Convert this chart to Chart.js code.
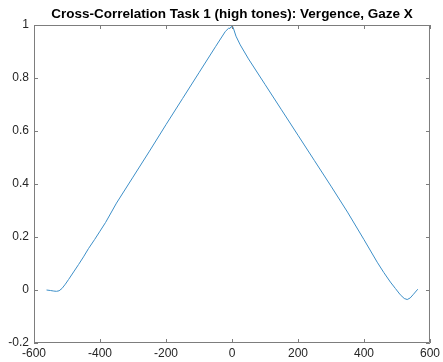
<!DOCTYPE html>
<html>
<head>
<meta charset="utf-8">
<script src="https://cdn.jsdelivr.net/npm/chart.js@4"></script>
<style>
  html, body { margin: 0; padding: 0; background: #fff; }
  #wrap { width: 443px; height: 362px; }
</style>
</head>
<body>
<div id="wrap"><canvas id="xcorr" width="443" height="362"></canvas></div>
<script>
// lag (samples) and normalized cross-correlation
const lags = [
  -562, -550, -540, -532, -524, -515, -505, -495, -480, -465, -450, -435,
  -416, -400, -383, -350, -300, -250, -229, -200, -150, -100, -50, -20,
  -10, -6, -3, 0, 5, 12, 25, 50, 100, 150, 200, 250, 300, 350, 400,
  440, 460, 480, 495, 510, 522, 531, 540, 550, 563
];
const corr = [
  0.000, -0.002, -0.004, -0.005, -0.003, 0.006, 0.022, 0.040, 0.068, 0.096, 0.125, 0.156,
  0.191, 0.222, 0.255, 0.328, 0.426, 0.524, 0.566, 0.624, 0.722, 0.820, 0.918, 0.976,
  0.988, 0.987, 0.993, 1.000, 0.985, 0.958, 0.925, 0.872, 0.776, 0.680, 0.584, 0.488, 0.392, 0.294, 0.190,
  0.105, 0.066, 0.030, 0.006, -0.018, -0.032, -0.036, -0.030, -0.016, 0.003
];
const xTicks = [-600, -400, -200, 0, 200, 400, 600];
const yTicks = [-0.2, 0, 0.2, 0.4, 0.6, 0.8, 1];
const yTickLabels = ['-0.2', '0', '0.2', '0.4', '0.6', '0.8', '1'];

const axisColor = '#7d7d7d';
const textColor = '#262626';
const tickLen = 4;
const fontFamily = 'Liberation Sans, Arial, sans-serif';

// MATLAB-style box with inward ticks on all four sides
const axesBox = {
  id: 'axesBox',
  afterDatasetsDraw(chart) {
    const { ctx, chartArea: a, scales: { x, y } } = chart;
    ctx.save();
    ctx.strokeStyle = axisColor;
    ctx.lineWidth = 1;
    ctx.beginPath();
    ctx.rect(a.left + 0.5, a.top + 0.5, a.right - a.left - 1, a.bottom - a.top - 1);
    xTicks.forEach(v => {
      const px = Math.round(x.getPixelForValue(v)) + 0.5;
      ctx.moveTo(px, a.bottom); ctx.lineTo(px, a.bottom - tickLen);
      ctx.moveTo(px, a.top); ctx.lineTo(px, a.top + tickLen);
    });
    yTicks.forEach(v => {
      const py = Math.round(y.getPixelForValue(v)) + 0.5;
      ctx.moveTo(a.left, py); ctx.lineTo(a.left + tickLen, py);
      ctx.moveTo(a.right, py); ctx.lineTo(a.right - tickLen, py);
    });
    ctx.stroke();
    ctx.restore();
  }
};

new Chart(document.getElementById('xcorr'), {
  type: 'line',
  data: {
    datasets: [{
      data: lags.map((l, i) => ({ x: l, y: corr[i] })),
      borderColor: '#3d8fc8',
      borderWidth: 1,
      pointRadius: 0,
      tension: 0,
      fill: false
    }]
  },
  options: {
    responsive: false,
    animation: false,
    devicePixelRatio: 1,
    layout: { padding: { left: 0, right: 10, top: 0, bottom: 0 } },
    plugins: {
      legend: { display: false },
      tooltip: { enabled: false },
      title: {
        display: true,
        text: 'Cross-Correlation Task 1 (high tones): Vergence, Gaze X',
        color: '#000',
        fullSize: false,
        font: { family: fontFamily, size: 13.5, weight: 'bold' },
        padding: { top: 6, bottom: 2.8 }
      }
    },
    scales: {
      x: {
        type: 'linear',
        min: -600,
        max: 600,
        afterBuildTicks: s => { s.ticks = xTicks.map(v => ({ value: v })); },
        afterFit: s => { s.height = 19; },
        grid: { display: false, drawTicks: false },
        border: { display: false },
        ticks: {
          color: textColor,
          padding: 3,
          maxRotation: 0,
          font: { family: fontFamily, size: 12 }
        }
      },
      y: {
        type: 'linear',
        min: -0.2,
        max: 1,
        afterBuildTicks: s => { s.ticks = yTicks.map(v => ({ value: v })); },
        afterFit: s => { s.width = 34; },
        grid: { display: false, drawTicks: false },
        border: { display: false },
        ticks: {
          color: textColor,
          padding: 5,
          callback: (v, i) => yTickLabels[i],
          font: { family: fontFamily, size: 12 }
        }
      }
    }
  },
  plugins: [axesBox]
});
</script>
</body>
</html>
